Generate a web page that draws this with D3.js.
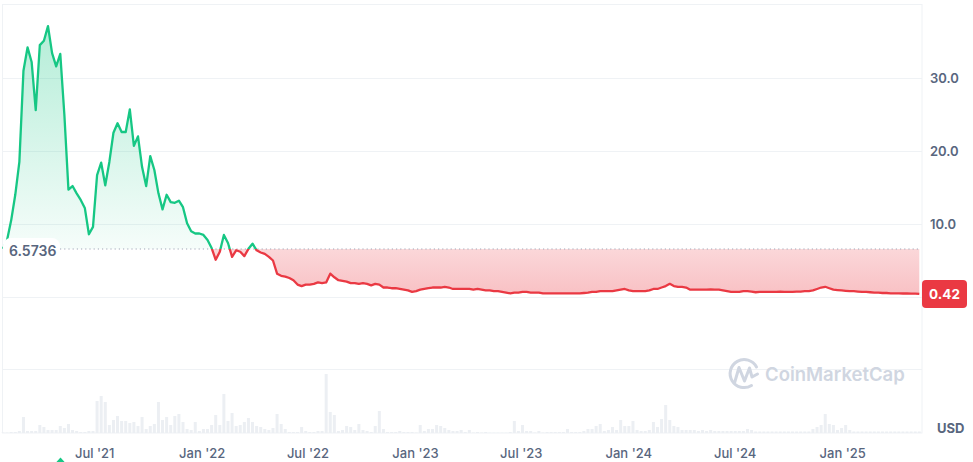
<!DOCTYPE html>
<html><head><meta charset="utf-8">
<script src="https://cdn.jsdelivr.net/npm/d3@7"></script>
<style>
html,body{margin:0;padding:0;background:#fff;}
svg{display:block;font-family:Inter,"Noto Sans",sans-serif;}
</style></head><body>
<svg id="chart" width="973" height="462"></svg>
<script>
// ---- data (weekly) ----
const startDate = "2021-01-26";
const prices = [
6.6,7.8,10.5,14,18.5,31,34.2,32.2,25.6,34.5,
35.1,37.1,33.4,31.6,33.3,25,14.7,15.2,14.2,13.3,
12.2,8.6,9.6,16.7,18.4,15.3,18.5,22.5,23.8,22.6,
22.6,25.7,20.7,22.0,17.8,15.2,19.3,17.4,14.2,12.0,
14.0,13.0,12.9,13.2,12.3,10.1,9.0,8.7,8.7,8.5,
7.8,6.7,5.1,6.2,8.5,7.4,5.5,6.4,6.2,5.6,
6.6,7.3,6.4,6.1,5.9,5.5,5.0,3.2,2.9,2.8,
2.6,2.3,1.7,1.5,1.7,1.7,1.8,2.0,1.9,2.0,
3.2,2.7,2.3,2.2,2.1,1.9,1.9,1.8,1.9,1.8,
1.6,1.8,1.7,1.3,1.3,1.2,1.2,1.1,1.0,0.9,
0.7,0.8,1.0,1.1,1.2,1.3,1.3,1.3,1.4,1.3,
1.1,1.1,1.1,1.1,1.1,1.0,1.1,1.0,0.9,0.9,
0.8,0.8,0.7,0.6,0.5,0.6,0.6,0.7,0.7,0.6,
0.6,0.6,0.5,0.5,0.5,0.5,0.5,0.5,0.5,0.5,
0.5,0.5,0.55,0.6,0.7,0.7,0.8,0.8,0.8,0.8,
0.9,1.0,1.1,0.9,0.8,0.8,0.8,0.8,0.9,1.1,
1.1,1.3,1.5,1.8,1.5,1.4,1.4,1.3,1.0,1.0,
1.0,1.0,1.0,1.05,1.0,1.0,0.9,0.8,0.7,0.7,
0.7,0.8,0.8,0.75,0.65,0.7,0.7,0.7,0.7,0.7,
0.75,0.7,0.7,0.7,0.75,0.75,0.8,0.8,0.9,1.1,
1.3,1.4,1.2,1.0,0.95,0.9,0.85,0.8,0.8,0.75,
0.7,0.7,0.65,0.6,0.6,0.55,0.55,0.5,0.5,0.5,
0.48,0.5,0.47,0.45,0.42];
const volumes = [
0.5,0.5,1,1,2,16,2,2,2,8,
6,3,3,3,7,5,9,3,2,1,
1,2,2,32,37,31,8,13,17,12,
12,10,11,7,16,4,7,9,31,13,
16,8,17,19,11,4,3,11,2,4,
4,8,18,8,39,12,20,7,8,11,
15,11,7,6,4,3,5,19,9,4,
1,1,1,6,2,1,1,2,2,59,
21,18,2,3,7,6,3,9,3,2,
1,7,22,4,1,1,1,2,1,1,
1,0.5,8,2,4,4,8,7,5,3,
2,2,3,1,3,0.5,1,0.5,1,0.3,
0.3,0.3,0.3,0.3,1,12,2,8,2,2,
0.5,2,0.5,1,1,1,1,1,4,1,
1,1,2,4,4,7,9,2,3,6,
3,13,7,7,12,3,2,2,3,11,
6,14,28,13,7,6,3,3,3,3,
2,3,2,3,2,2,2,2,2,2,
2,2,4,3,1.5,1.5,1.5,1.5,1.5,1.5,
1.5,1.5,1.5,1.5,1.5,1.5,1.5,1.5,4,6,
8,19,9,8,3,5,8,3,1.5,1.5,
1.5,1.5,1.5,1.5,1.5,1.5,1.5,1.5,1.5,1.5,
1.5,1.5,1.5,1.5,1.5];
const yTicks = [10, 20, 30];
const xTickDates = ["2021-07-01","2022-01-01","2022-07-01","2023-01-01","2023-07-01","2024-01-01","2024-07-01","2025-01-01"];
const baselinePrice = 6.5736;
const lastPriceLabel = "0.42";
const currencyLabel = "USD";
const watermark = "CoinMarketCap";

// ---- setup ----
const parse = d3.utcParse("%Y-%m-%d");
const t0 = parse(startDate);
const dates = prices.map((_, i) => d3.utcDay.offset(t0, i * 7));
const data = prices.map((p, i) => ({d: dates[i], p, v: volumes[i]}));

const svg = d3.select("#chart");
const L = 2, R = 922, T = 4.5, B = 433;
const x = d3.scaleTime().domain([dates[0], dates[dates.length - 1]]).range([3, 919.3]);
const y = d3.scaleLinear().domain([0, 40]).range([297, 5]);
const yv = d3.scaleLinear().domain([0, d3.max(volumes)]).range([B, 374]);
const gridC = "#eff2f5", textC = "#58667e", green = "#16c784", red = "#ea3943";
const by = y(baselinePrice);

const defs = svg.append("defs");
const gg = defs.append("linearGradient").attr("id", "gGreen").attr("gradientUnits", "userSpaceOnUse")
  .attr("x1", 0).attr("x2", 0).attr("y1", y(d3.max(prices))).attr("y2", by);
gg.append("stop").attr("offset", 0).attr("stop-color", green).attr("stop-opacity", 0.32);
gg.append("stop").attr("offset", 1).attr("stop-color", green).attr("stop-opacity", 0.04);
const gr = defs.append("linearGradient").attr("id", "gRed").attr("gradientUnits", "userSpaceOnUse")
  .attr("x1", 0).attr("x2", 0).attr("y1", by).attr("y2", y(0));
gr.append("stop").attr("offset", 0).attr("stop-color", red).attr("stop-opacity", 0.2);
gr.append("stop").attr("offset", 1).attr("stop-color", red).attr("stop-opacity", 0.32);
defs.append("clipPath").attr("id", "cAbove").append("rect").attr("x", 0).attr("y", 0).attr("width", 973).attr("height", by);
defs.append("clipPath").attr("id", "cBelow").append("rect").attr("x", 0).attr("y", by).attr("width", 973).attr("height", 462 - by);

// frame + grid
svg.append("rect").attr("x", L + 0.5).attr("y", T).attr("width", R - L - 0.5).attr("height", B - T)
  .attr("fill", "none").attr("stroke", gridC).attr("stroke-width", 1);
svg.append("g").selectAll("line").data([0, ...yTicks]).join("line")
  .attr("x1", L).attr("x2", R).attr("y1", d => Math.round(y(d)) + 0.5).attr("y2", d => Math.round(y(d)) + 0.5)
  .attr("stroke", gridC);
svg.append("line").attr("x1", L).attr("x2", R).attr("y1", 369.5).attr("y2", 369.5).attr("stroke", gridC);

// volume bars
svg.append("g").selectAll("rect").data(data).join("rect")
  .attr("x", d => x(d.d) - 1.5).attr("width", 3)
  .attr("y", d => yv(d.v)).attr("height", d => B - yv(d.v))
  .attr("fill", "#eceff3");

// watermark
const wmC = "#d0d6e1";
const wm = svg.append("g").attr("fill", "none").attr("stroke", wmC);
wm.append("path").attr("stroke-width", 3).attr("stroke-linecap", "round")
  .attr("d", "M751.5,385.5 A14,14 0 1 1 756.5,367");
wm.append("path").attr("stroke-width", 3).attr("stroke-linejoin", "round").attr("stroke-linecap", "round")
  .attr("d", "M734.5,383 L739,367.5 L744.5,381 L749.5,368 L752,377 L757.5,374");
svg.append("text").attr("x", 765).attr("y", 381).attr("font-size", 18.5).attr("font-weight", 600)
  .attr("fill", wmC).text(watermark);

// areas
const area = d3.area().x(d => x(d.d)).y0(by).y1(d => y(d.p));
const line = d3.line().x(d => x(d.d)).y(d => y(d.p));
svg.append("path").datum(data).attr("d", area).attr("fill", "url(#gGreen)").attr("clip-path", "url(#cAbove)");
svg.append("path").datum(data).attr("d", area).attr("fill", "url(#gRed)").attr("clip-path", "url(#cBelow)");

// baseline dotted
svg.append("line").attr("x1", 60).attr("x2", 920).attr("y1", by).attr("y2", by)
  .attr("stroke", "#a1a7b7").attr("stroke-width", 1).attr("stroke-dasharray", "1.2,3");

// lines
svg.append("path").datum(data).attr("d", line).attr("fill", "none").attr("stroke", green)
  .attr("stroke-width", 2.3).attr("stroke-linejoin", "round").attr("clip-path", "url(#cAbove)");
svg.append("path").datum(data).attr("d", line).attr("fill", "none").attr("stroke", red)
  .attr("stroke-width", 2.3).attr("stroke-linejoin", "round").attr("clip-path", "url(#cBelow)");

// baseline label
svg.append("rect").attr("x", 3).attr("y", 238).attr("width", 57).attr("height", 26).attr("rx", 8).attr("fill", "#fff");
svg.append("text").attr("x", 9).attr("y", 251).attr("dy", "0.35em").attr("font-size", 14).attr("font-weight", 600)
  .attr("fill", textC).text(d3.format(".4f")(baselinePrice));

// y axis
const yAxis = d3.axisRight(y).tickValues(yTicks).tickFormat(d3.format(".1f")).tickSize(0).tickPadding(0);
const gy = svg.append("g").attr("transform", "translate(930,0)").call(yAxis);
gy.select(".domain").remove();
gy.selectAll("text").attr("font-size", 13).attr("font-weight", 600).attr("fill", textC).attr("font-family", "Inter");

// last price tag
const lastY = y(prices[prices.length - 1]);
svg.append("rect").attr("x", 922).attr("y", lastY - 14).attr("width", 45).attr("height", 28).attr("rx", 4).attr("fill", red);
svg.append("text").attr("x", 944.5).attr("y", lastY).attr("dy", "0.35em").attr("text-anchor", "middle")
  .attr("font-size", 13.5).attr("font-weight", 700).attr("fill", "#fff").text(lastPriceLabel);

// x axis
const xAxis = d3.axisBottom(x).tickValues(xTickDates.map(parse)).tickFormat(d3.utcFormat("%b '%y")).tickSize(0).tickPadding(0);
const gx = svg.append("g").attr("transform", "translate(0,453)").call(xAxis);
gx.select(".domain").remove();
gx.selectAll("text").attr("dy", "0.35em").attr("font-size", 13).attr("font-weight", 500).attr("fill", textC).attr("font-family", "Inter");

// currency
svg.append("text").attr("x", 937).attr("y", 428).attr("dy", "0.35em").attr("font-size", 13).attr("font-weight", 700)
  .attr("fill", textC).text(currencyLabel);

// partial marker at bottom-left
svg.append("path").attr("d", "M55.5,463 L60.5,457.5 L65.5,463 Z").attr("fill", green);
</script>
</body></html>
